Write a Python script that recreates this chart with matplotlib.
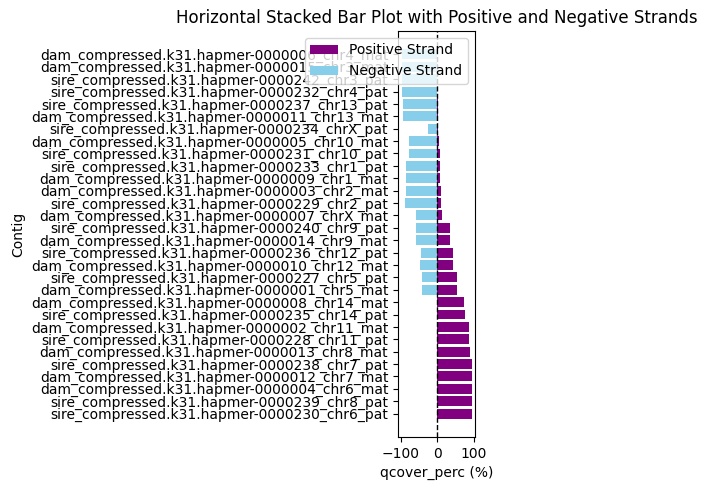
import matplotlib

matplotlib.use("Agg")
import matplotlib.pyplot as plt

# contigs listed top-to-bottom as they appear in the chart
contigs = [
    "dam_compressed.k31.hapmer-0000006_chr4_mat",
    "dam_compressed.k31.hapmer-0000015_chr3_mat",
    "sire_compressed.k31.hapmer-0000242_chr3_pat",
    "sire_compressed.k31.hapmer-0000232_chr4_pat",
    "sire_compressed.k31.hapmer-0000237_chr13_pat",
    "dam_compressed.k31.hapmer-0000011_chr13_mat",
    "sire_compressed.k31.hapmer-0000234_chrX_pat",
    "dam_compressed.k31.hapmer-0000005_chr10_mat",
    "sire_compressed.k31.hapmer-0000231_chr10_pat",
    "sire_compressed.k31.hapmer-0000233_chr1_pat",
    "dam_compressed.k31.hapmer-0000009_chr1_mat",
    "dam_compressed.k31.hapmer-0000003_chr2_mat",
    "sire_compressed.k31.hapmer-0000229_chr2_pat",
    "dam_compressed.k31.hapmer-0000007_chrX_mat",
    "sire_compressed.k31.hapmer-0000240_chr9_pat",
    "dam_compressed.k31.hapmer-0000014_chr9_mat",
    "sire_compressed.k31.hapmer-0000236_chr12_pat",
    "dam_compressed.k31.hapmer-0000010_chr12_mat",
    "sire_compressed.k31.hapmer-0000227_chr5_pat",
    "dam_compressed.k31.hapmer-0000001_chr5_mat",
    "dam_compressed.k31.hapmer-0000008_chr14_mat",
    "sire_compressed.k31.hapmer-0000235_chr14_pat",
    "dam_compressed.k31.hapmer-0000002_chr11_mat",
    "sire_compressed.k31.hapmer-0000228_chr11_pat",
    "dam_compressed.k31.hapmer-0000013_chr8_mat",
    "sire_compressed.k31.hapmer-0000238_chr7_pat",
    "dam_compressed.k31.hapmer-0000012_chr7_mat",
    "dam_compressed.k31.hapmer-0000004_chr6_mat",
    "sire_compressed.k31.hapmer-0000239_chr8_pat",
    "sire_compressed.k31.hapmer-0000230_chr6_pat",
]

positive = [0.5, 0.5, 0.5, 0.5, 1, 1, 1, 6, 7, 7, 7, 9, 9, 12, 35,
            35, 43, 43, 54, 54, 74, 77, 88, 88, 91, 94, 94, 94, 94, 94]
negative = [96, 96, 96, 98, 95, 95, 24, 77, 77, 86, 86, 86, 89, 58, 58,
            58, 44, 47, 41, 41, 0, 0, 0, 0, 0, 0, 0, 1.5, 0, 1.5]

fig, ax = plt.subplots(figsize=(7.07, 4.9), dpi=100)
ax.barh(contigs, positive, color="purple", label="Positive Strand")
ax.barh(contigs, [-v for v in negative], color="skyblue", label="Negative Strand")
ax.axvline(0, color="black", linestyle="--", linewidth=1)
ax.invert_yaxis()
ax.set_xlabel("qcover_perc (%)")
ax.set_ylabel("Contig")
ax.set_title("Horizontal Stacked Bar Plot with Positive and Negative Strands")
ax.legend(loc="upper right")
# narrow axes so the long title fits, as in the original layout
fig.subplots_adjust(left=398 / 707, right=475 / 707, top=1 - 31 / 490, bottom=1 - 437 / 490)
fig.savefig("out.png", dpi=100)
